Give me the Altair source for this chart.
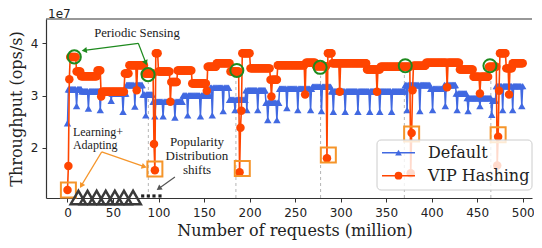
import altair as alt
import numpy as np
import pandas as pd

# ---------------- data ----------------
x_ticks = list(range(0, 501, 50))
y_ticks = [2, 3, 4]
series_names = ["Default", "VIP Hashing"]
N_END = 500

# VIP Hashing: level segments (start x, level in 1e7 ops/s) + single-point dips
red_start = [0, 1, 2, 3, 10, 15, 33, 37, 63, 68, 85, 95, 96, 97, 100, 113, 121, 137, 153,
             164, 179, 189, 190, 191, 192, 201, 223, 231, 262, 273, 285, 286, 291, 329, 344,
             377, 378, 379, 380, 394, 431, 446, 463, 472, 473, 474, 475, 482, 489]
red_level = [1.19, 1.65, 3.31, 3.74, 3.46, 3.37, 3.48, 3.07, 3.42, 3.58, 3.42, 2.07, 1.57, 3.81,
             3.46, 3.26, 3.48, 3.23, 3.55, 3.62, 3.46, 1.53, 2.38, 2.71, 3.81, 3.52, 3.30, 3.58,
             3.63, 3.56, 1.80, 3.81, 3.62, 3.50, 3.55, 1.51, 2.28, 3.10, 3.57, 3.63, 3.50, 3.36,
             3.55, 1.66, 2.21, 3.09, 3.81, 3.52, 3.62]
red_dip_x = [37, 76, 113, 153, 224, 261, 299, 340, 417, 453, 485]
red_dip_v = [2.98, 3.10, 2.88, 3.09, 2.98, 3.02, 3.07, 3.07, 3.16, 3.04, 3.02]

# Default: level segments + dips
blue_start = [0, 1, 16, 48, 65, 83, 94, 127, 157, 178, 196, 218, 233, 269, 290, 371, 399, 414,
              427, 439, 466, 471]
blue_level = [2.47, 3.12, 3.08, 3.04, 3.20, 3.02, 2.88, 3.00, 3.15, 2.92, 3.10, 2.86, 3.13, 3.17,
              3.08, 3.20, 3.13, 3.20, 3.04, 2.95, 2.90, 3.18]
blue_dip_x = [10, 23, 36, 48, 61, 74, 86, 96, 105, 118, 132, 146, 159, 171, 184, 197, 209, 220,
              230, 241, 253, 267, 279, 292, 305, 319, 332, 343, 356, 373, 387, 401, 415, 428,
              440, 453, 466, 478, 489, 499]
blue_dip_v = [2.80, 2.75, 2.72, 2.90, 2.69, 2.79, 2.62, 2.60, 2.60, 2.58, 2.62, 2.60, 2.62, 2.70,
              2.72, 2.72, 2.72, 2.53, 2.53, 2.76, 2.72, 2.72, 2.70, 2.69, 2.69, 2.69, 2.69, 2.69,
              2.69, 2.72, 2.70, 2.72, 2.80, 2.72, 2.70, 2.80, 2.63, 2.72, 2.72, 2.80]

# annotations
sense_x = [7.5, 88.5, 186, 277.5, 371, 464]
sense_v = [3.74, 3.40, 3.48, 3.54, 3.57, 3.57]
shift_x = [1, 96, 192, 286.5, 378, 473]
shift_v = [1.19, 1.59, 1.60, 1.86, 2.26, 2.25]
dash_x = [88.8, 185, 278, 370, 465]
dash_top = [3.25, 3.33, 3.38, 3.42, 3.42]
hollow_x = [12, 22, 32, 42, 52, 62, 72]
hollow_v = [1.046] * 7
dots_x = [82.6, 88.8, 95, 101.6]
dots_v = [1.075] * 4

arrow_x0 = [77.8, 77.8, 37.6, 37.6, 118]
arrow_v0 = [4.00, 4.00, 1.92, 1.92, 1.44]
arrow_x1 = [15.6, 87.0, 13.7, 87.0, 98]
arrow_v1 = [3.86, 3.58, 1.23, 1.62, 1.19]
arrow_col = ["#1e8a1e", "#1e8a1e", "#f5952a", "#f5952a", "#555555"]

text_lines = ["Periodic Sensing", "Learning+", "Adapting", "Popularity", "Distribution", "shifts"]
text_x = [76.3, 6.0, 6.0, 142.2, 142.2, 142.2]
text_v = [4.197, 2.306, 2.05, 2.109, 1.85, 1.571]
text_align = ["center", "left", "left", "center", "center", "center"]
text_size = [12.7, 12, 12, 13, 13, 13]

# ---------------- build tables ----------------
def expand(starts, levels, dip_x, dip_v):
    xs = np.arange(0, N_END + 1)
    vals = np.empty(len(xs))
    bounds = list(starts) + [N_END + 1]
    for s, e, v in zip(bounds[:-1], bounds[1:], levels):
        vals[s:e] = v
    for dx, dv in zip(dip_x, dip_v):
        vals[dx] = dv
    return pd.DataFrame({"x": xs, "v": vals})

red_df = expand(red_start, red_level, red_dip_x, red_dip_v)
blue_df = expand(blue_start, blue_level, blue_dip_x, blue_dip_v)

W, H = 486, 179
XD = [-23.6, 510.2]
YD = [1.036, 4.466]
BLUE = "#4169E1"
RED = "#FF4500"
SERIF = "DejaVu Serif"
ANNOT = "Liberation Serif"

xs = alt.Scale(domain=XD, nice=False, zero=False)
ys = alt.Scale(domain=YD, nice=False, zero=False)

def px(x):
    return (x - XD[0]) / (XD[1] - XD[0]) * W

def py(v):
    return (YD[1] - v) / (YD[1] - YD[0]) * H

def dx_from_px(p):
    return p / W * (XD[1] - XD[0])

def dv_from_px(p):
    return p / H * (YD[1] - YD[0])

xaxis = alt.Axis(values=x_ticks, title="Number of requests (million)", grid=False,
                 labelFlush=False, titleFont=SERIF, titleFontSize=16, titlePadding=4,
                 labelPadding=5, titleX=248.5)
yaxis = alt.Axis(values=y_ticks, format="d", title="Throughput (ops/s)", grid=False,
                 titleFont=SERIF, titleFontSize=16, titlePadding=6, labelPadding=4)

Xn = lambda f="x": alt.X(f"{f}:Q", scale=xs, axis=xaxis)
Yn = lambda f="v": alt.Y(f"{f}:Q", scale=ys, axis=yaxis)

layers = []

# dashed vertical lines
dash_df = pd.DataFrame({"x": dash_x, "v": [YD[0]] * len(dash_x), "v2": dash_top})
layers.append(alt.Chart(dash_df).mark_rule(color="#b5b5b5", strokeWidth=1, strokeDash=[3, 3]).encode(
    x=Xn(), y=Yn(), y2="v2:Q"))

# Default series
layers.append(alt.Chart(blue_df).mark_line(color=BLUE, strokeWidth=1.5).encode(x=Xn(), y=Yn()))
layers.append(alt.Chart(blue_df).mark_point(shape="triangle-up", filled=True, color=BLUE,
                                            size=55, opacity=1).encode(x=Xn(), y=Yn()))
# VIP Hashing series
layers.append(alt.Chart(red_df).mark_line(color=RED, strokeWidth=1.6).encode(x=Xn(), y=Yn()))
layers.append(alt.Chart(red_df).mark_point(shape="circle", filled=True, color=RED,
                                           size=72, opacity=1).encode(x=Xn(), y=Yn()))

# green sensing circles
sense_df = pd.DataFrame({"x": sense_x, "v": sense_v})
layers.append(alt.Chart(sense_df).mark_point(shape="circle", filled=False, color="#1e8a1e",
                                             strokeWidth=2, size=170, opacity=1).encode(x=Xn(), y=Yn()))
# orange squares
shift_df = pd.DataFrame({"x": shift_x, "v": shift_v})
layers.append(alt.Chart(shift_df).mark_point(shape="square", filled=False, color="#f5952a",
                                             strokeWidth=2, size=225, opacity=1).encode(x=Xn(), y=Yn()))

# arrows
arr_rows = []
head_rows = []
HEAD = 36
for x0, v0, x1, v1, c in zip(arrow_x0, arrow_v0, arrow_x1, arrow_v1, arrow_col):
    ddx = px(x1) - px(x0)
    ddy = py(v1) - py(v0)
    L = np.hypot(ddx, ddy)
    ux, uy = ddx / L, ddy / L
    ang = float(np.degrees(np.arctan2(ux, -uy)) % 360)
    h = np.sqrt(3) * (np.sqrt(HEAD) / 2) / 2
    hx = x1 - dx_from_px(ux * h)
    hv = v1 + dv_from_px(uy * h)
    arr_rows.append({"x": x0, "v": v0, "x2": hx, "v2": hv, "c": c})
    head_rows.append({"x": hx, "v": hv, "a": ang, "c": c})
arr_df = pd.DataFrame(arr_rows)
head_df = pd.DataFrame(head_rows)
layers.append(alt.Chart(arr_df).mark_rule(strokeWidth=1.2).encode(
    x=Xn(), y=Yn(), x2="x2:Q", y2="v2:Q", color=alt.Color("c:N", scale=None)))
layers.append(alt.Chart(head_df).mark_point(shape="triangle-up", filled=True, size=HEAD, opacity=1).encode(
    x=Xn(), y=Yn(), angle=alt.Angle("a:Q", scale=None), color=alt.Color("c:N", scale=None)))

# annotation texts
for al in ["center", "left"]:
    tdf = pd.DataFrame({"x": [x for x, a in zip(text_x, text_align) if a == al],
                        "v": [v for v, a in zip(text_v, text_align) if a == al],
                        "t": [t for t, a in zip(text_lines, text_align) if a == al],
                        "s": [s for s, a in zip(text_size, text_align) if a == al]})
    layers.append(alt.Chart(tdf).mark_text(font=ANNOT, align=al,
                                           baseline="middle", color="#1a1a1a").encode(
        x=Xn(), y=Yn(), text="t:N", size=alt.Size("s:Q", scale=None, legend=None)))

# hollow triangles and dots
hol_df = pd.DataFrame({"x": hollow_x, "v": hollow_v})
layers.append(alt.Chart(hol_df).mark_point(shape="triangle-up", filled=False, color="#3a3a3a",
                                           strokeWidth=2.5, size=240, opacity=1).encode(x=Xn(), y=Yn()))
dots_df = pd.DataFrame({"x": dots_x, "v": dots_v})
layers.append(alt.Chart(dots_df).mark_point(shape="square", filled=True, color="#222222",
                                            size=10, opacity=1).encode(x=Xn(), y=Yn()))

# legend (manual)
lg = pd.DataFrame({"label": ["legend"]})
layers.append(alt.Chart(lg).mark_rect(fill="white", fillOpacity=0.8, stroke="#cccccc",
                                      strokeWidth=1, cornerRadius=4).encode(
    x=alt.value(331), x2=alt.value(486), y=alt.value(121), y2=alt.value(171)))
for i, (name, col, shp, sz) in enumerate(zip(series_names, [BLUE, RED],
                                            ["triangle-up", "circle"], [45, 60])):
    yy = 133.7 + i * 23
    d = pd.DataFrame({"label": [name]})
    layers.append(alt.Chart(d).mark_rule(color=col, strokeWidth=1.6).encode(
        x=alt.value(336), x2=alt.value(369), y=alt.value(yy)))
    layers.append(alt.Chart(d).mark_point(shape=shp, filled=True, color=col, size=sz, opacity=1).encode(
        x=alt.value(352.5), y=alt.value(yy)))
    layers.append(alt.Chart(d).mark_text(font=SERIF, fontSize=16, align="left",
                                         baseline="middle", color="#222222").encode(
        x=alt.value(382), y=alt.value(yy), text="label:N"))

# top spine and offset text
sp = pd.DataFrame({"label": ["1e7"]})
layers.append(alt.Chart(sp).mark_rule(color="#333333", strokeWidth=1.2).encode(
    x=alt.value(0), x2=alt.value(W), y=alt.value(0)))
layers.append(alt.Chart(sp).mark_text(font="DejaVu Sans", fontSize=12, align="left",
                                      baseline="alphabetic", color="#222222").encode(
    x=alt.value(2), y=alt.value(-1.5), text="label:N"))

chart = alt.layer(*layers).properties(
    width=W, height=H,
    padding={"left": 38, "top": 11, "right": 2, "bottom": 42},
    autosize=alt.AutoSizeParams(type="none"),
).configure_view(stroke=None).configure_axis(
    domainColor="#333333", domainWidth=1.2, tickColor="#333333", tickSize=4, tickWidth=1,
    labelFont="DejaVu Sans", labelFontSize=12, labelColor="#222222",
    titleFont=SERIF, titleFontWeight="normal", titleColor="#222222",
)

chart.save("out.html", embed_options={"renderer": "svg", "actions": False})
